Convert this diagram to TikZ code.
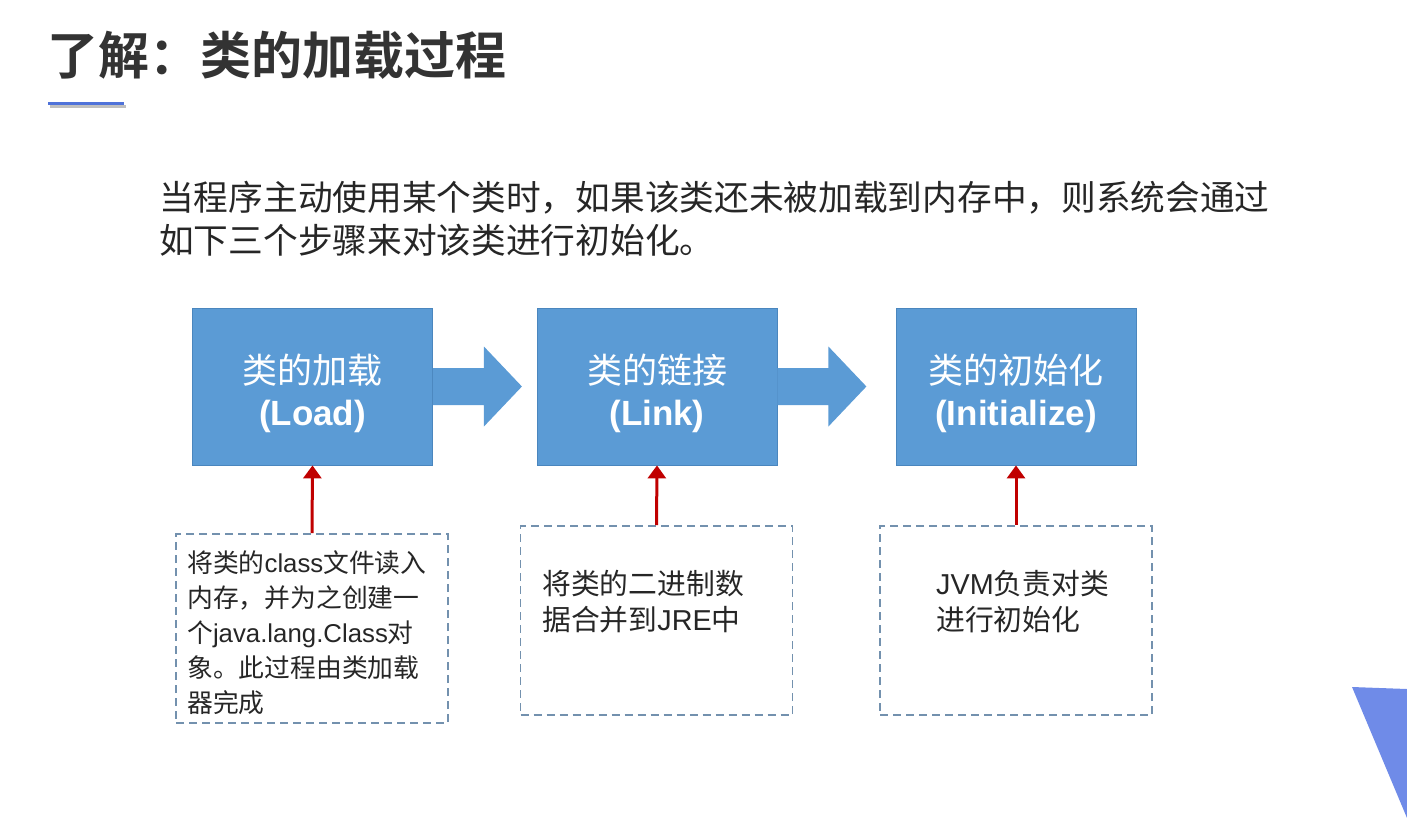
\documentclass[tikz,border=0pt]{standalone}
\usepackage{fontspec}
\setmainfont{Noto Sans CJK SC}[BoldFont={Noto Sans CJK SC Bold}]
\newfontfamily\lat{Liberation Sans}
\usetikzlibrary{arrows.meta,calc}

\definecolor{stageblue}{HTML}{5B9BD5}
\definecolor{stageedge}{HTML}{4A86BE}
\definecolor{noteedge}{HTML}{7391AE}
\definecolor{feedred}{HTML}{C00000}
\definecolor{titlegray}{HTML}{333333}
\definecolor{textgray}{HTML}{262626}
\definecolor{rulerblue}{HTML}{4F72D9}
\definecolor{cornerblue}{HTML}{6F8BE8}

\begin{document}
\begin{tikzpicture}[x=1pt, y=-1pt,
	stagebox/.style={draw=stageedge, line width=0.8pt, fill=stageblue, text=white, minimum width=240pt, minimum height=157pt, inner sep=0pt, text height=86pt, text depth=8pt, align=center, font=\fontsize{35}{42}\selectfont},
	notebox/.style={draw=noteedge, line width=1.8pt, dash pattern=on 8pt off 5pt, minimum width=272pt, minimum height=189pt, inner sep=0pt},
	notetext/.style={anchor=base west, align=left, inner sep=0pt, text=textgray},
	feed/.style={draw=feedred, line width=3pt, -{Triangle[length=13pt,width=18pt]}}]
	\useasboundingbox (0,0) rectangle (1407,838);
	% heading
	\node[anchor=base west, inner sep=0pt, text=titlegray, font=\fontsize{51}{51}\bfseries] (title) at (47,74) {了解：类的加载过程};
	\draw[line width=3pt, black!25] (50,106) -- (126,106);
	\draw[line width=3pt, rulerblue] (48,103) -- (124,103);
	\node[anchor=base west, align=left, inner sep=0pt, text=textgray, font=\fontsize{34.7}{43}\selectfont] (intro) at (159,253.2) {当程序主动使用某个类时，如果该类还未被加载到内存中，则系统会通过\\如下三个步骤来对该类进行初始化。};
	% three stages
	\node[stagebox] (load) at (312.5,386.5) {类的加载\\{\lat\bfseries (Load)}};
	\node[stagebox] (link) at (657,386.5) {类的链接\\{\lat\bfseries (Link)}};
	\node[stagebox] (init) at (1016,386.5) {类的初始化\\{\lat\bfseries (Initialize)}};
	\foreach \a/\b in {load/link, link/init}
		\fill[stageblue] ($(\a.east)+(0,-18.5)$) -- ($(\a.east)+(51,-18.5)$) -- ($(\a.east)+(51,-40)$) -- ($(\a.east)+(89,0)$) -- ($(\a.east)+(51,40)$) -- ($(\a.east)+(51,18.5)$) -- ($(\a.east)+(0,18.5)$) -- cycle;
	% notes
	\node[notebox] (load-note) at (312,628.5) {};
	\node[notebox] (link-note) at (656.5,620.5) {};
	\node[notebox] (init-note) at (1016,620.5) {};
	\node[notetext, font=\fontsize{25.8}{35}\selectfont] (load-text) at (187,712.8) {将类的{\lat class}文件读入\\内存，并为之创建一\\个{\lat java.lang.Class}对\\象。此过程由类加载\\器完成};
	\node[notetext, font=\fontsize{28.8}{36}\selectfont] (link-text) at (542,630) {将类的二进制数\\据合并到{\lat JRE}中};
	\node[notetext, font=\fontsize{28.8}{36}\selectfont] (init-text) at (936,630) {{\lat JVM}负责对类\\进行初始化};
	\foreach \s in {load,link,init}
		\draw[feed] (\s-note.north) -- (\s.south);
	% slide corner
	\fill[cornerblue] (1352,687) -- (1407,689) -- (1407,818) -- cycle;
\end{tikzpicture}
\end{document}
